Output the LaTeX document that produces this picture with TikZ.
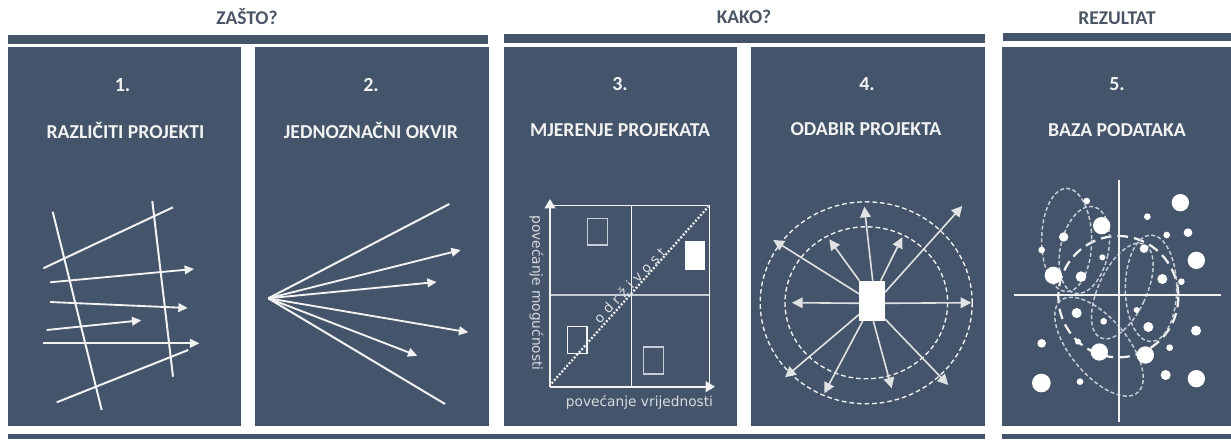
\documentclass[tikz,border=0pt]{standalone}
\usepackage{fontspec}
\setmainfont{Carlito}
\newfontfamily\axisfont{DejaVu Sans}
\usetikzlibrary{arrows.meta}
\definecolor{panelc}{HTML}{44546A}
\definecolor{headc}{HTML}{4A5666}
\definecolor{inkc}{HTML}{F2F2F2}
\definecolor{softc}{HTML}{C6CDD7}
\tikzset{
  panel/.style={fill=panelc,draw=none},
  head/.style={text=headc,font=\fontsize{14.6}{16}\selectfont\bfseries},
  numb/.style={text=inkc,font=\fontsize{15}{17}\selectfont\bfseries},
  ttl/.style={text=inkc,font=\fontsize{14.8}{17}\selectfont\bfseries},
  wl/.style={draw=inkc,line width=1.5pt},
  wa/.style={draw=inkc,line width=1.4pt,-{Triangle[length=7pt,width=6.5pt]}},
  thina/.style={draw=inkc!90!panelc,line width=1.2pt,-{Triangle[length=8pt,width=8pt]}},
  box/.style={draw=softc,line width=1pt},
  ring/.style={draw=inkc,line width=1pt,dash pattern=on 3.5pt off 2.2pt},
  dashe/.style={draw=softc,line width=1.1pt,dash pattern=on 3pt off 1.8pt},
  heavy/.style={draw=inkc,line width=1.7pt,dash pattern=on 8pt off 4.5pt},
  dotc/.style={fill=white,draw=none},
  axt/.style={text=inkc!85!panelc,font=\axisfont\fontsize{10.3}{12}\selectfont}
}
\begin{document}
\begin{tikzpicture}[x=0.75pt,y=-0.75pt]
\useasboundingbox (0,0) rectangle (1231,439);
% bars and panels
\fill[panel] (8,35) rectangle (488,44);
\fill[panel] (504,34) rectangle (985,42.5);
\fill[panel] (1003,33) rectangle (1231,41);
\fill[panel] (8,434) rectangle (985,439);
\fill[panel] (1002,434) rectangle (1231,439);
\fill[panel] (8,47) rectangle (240.5,425.7);
\fill[panel] (255,47) rectangle (489,425.7);
\fill[panel] (504,47) rectangle (736.5,425.7);
\fill[panel] (751,46.5) rectangle (985,425.7);
\fill[panel] (1002,47) rectangle (1231,425.7);
% headings
\node[head] (h1) at (247,17) {ZAŠTO?};
\node[head] (h2) at (744,17) {KAKO?};
\node[head] (h3) at (1117,18) {REZULTAT};
\node[numb] (n1) at (122.5,85) {1.};
\node[numb] (n2) at (371,85) {2.};
\node[numb] (n3) at (620,84.5) {3.};
\node[numb] (n4) at (867,84) {4.};
\node[numb] (n5) at (1117,84.5) {5.};
\node[ttl] (t1) at (125.5,130.5) {RAZLIČITI PROJEKTI};
\node[ttl] (t2) at (371,130.5) {JEDNOZNAČNI OKVIR};
\node[ttl] (t3) at (620,130) {MJERENJE PROJEKATA};
\node[ttl] (t4) at (866,129.5) {ODABIR PROJEKTA};
\node[ttl] (t5) at (1117,130.5) {BAZA PODATAKA};
% panel 1
\draw[wl] (52.7,211.7) -- (101.7,410);
\draw[wl] (152.3,201) -- (173,376.7);
\draw[wl] (43.3,268.3) -- (173,207.3);
\draw[wa] (50,282.3) -- (194,269);
\draw[wa] (50,302) -- (187.7,308);
\draw[wa] (46.7,330) -- (141.3,320.3);
\draw[wa] (43.3,343.3) -- (199.3,343.3);
\draw[wl] (56.7,402.3) -- (188.3,350);
% panel 2
\coordinate (o) at (268.3,298.3);
\draw[wl] (o) -- (449.3,204);
\draw[wa] (o) -- (460.7,250);
\draw[wa] (o) -- (436.7,282);
\draw[wa] (o) -- (468.3,332.3);
\draw[wa] (o) -- (417.3,355.7);
\draw[wl] (o) -- (445,404);
% panel 3
\draw[draw=softc,line width=1.2pt] (550,295) -- (709.3,295);
\draw[draw=inkc,line width=1pt] (631.7,205.3) -- (631.7,386.7);
\draw[draw=inkc,line width=1.2pt] (550,205.3) -- (709.3,205.3) -- (709.3,386.7);
\draw[draw=inkc,line width=1.4pt,-{Triangle[length=7pt,width=8pt]}] (550,386.7) -- (550,199);
\draw[draw=inkc,line width=1.4pt,-{Triangle[length=7pt,width=8pt]}] (550,386.7) -- (715,386.7);
\draw[box] (587.7,218.3) rectangle (607.3,245);
\draw[draw=inkc,line width=1pt] (567.3,326.7) rectangle (587,353.7);
\draw[box] (643.3,347) rectangle (663.7,374);
\fill[white] (684.7,241.3) rectangle (704.7,269.7);
\draw[draw=inkc,line width=1.7pt,dash pattern=on 1.4pt off 1.4pt] (551.7,383.3) -- (708.3,206.7);
\node[axt,rotate=46.5] (od) at (629.5,285) {o d r ž i v o s t};
\node[axt,rotate=-90] (ya) at (536.5,293) {povećanje mogućnosti};
\node[axt] (xa) at (639.5,402.5) {povećanje vrijednosti};
% panel 4
\draw[ring] (866.2,302.8) ellipse [x radius=106,y radius=101];
\draw[ring] (866.3,302.8) ellipse [x radius=81.3,y radius=76];
\node[fill=white,minimum width=19.2pt,minimum height=30.3pt,inner sep=0pt] (c) at (872.2,300.8) {};
\draw[thina] (872.7,280.7) -- (864.3,206.7);
\draw[thina] (859.3,294) -- (773.3,240);
\draw[thina] (859.3,280.7) -- (829.3,239.3);
\draw[thina] (880.7,280.7) -- (902.3,237.3);
\draw[thina] (885,292.3) -- (962.3,206);
\draw[thina] (885,303.3) -- (971.3,302.7);
\draw[thina] (859.3,303.3) -- (792,302.7);
\draw[thina] (859.3,314.3) -- (785,377.3);
\draw[thina] (862.7,321) -- (824.3,393.3);
\draw[thina] (873.3,321) -- (891.7,388.3);
\draw[thina] (885,319) -- (948.3,385);
% panel 5 ellipses
\begin{scope}[shift={(1000,180)},x=0.25pt,y=-0.25pt]
\draw[heavy] (355,350) ellipse [x radius=180,y radius=182];
\draw[dashe] (200,180) ellipse [x radius=75,y radius=155];
\draw[dashe,rotate around={-12:(253,210)}] (253,210) ellipse [x radius=72,y radius=133];
\draw[dashe,rotate around={-25:(367,333)}] (367,333) ellipse [x radius=72,y radius=155];
\draw[dashe] (453,325) ellipse [x radius=77,y radius=160];
\draw[dashe,rotate around={40:(297,500)}] (297,500) ellipse [x radius=85,y radius=180];
\draw[draw=inkc,line width=1.6pt] (356,0) -- (356,725);
\draw[draw=inkc,line width=1.6pt] (42,346) -- (663,346);
\foreach \x/\y/\r in {541/68/26,442/110/10,564/158/13,500/165/10,589/241/26,305/137/26,191/171/14,260/63/10,125/210/10,307/232/9,432/206/13,243/290/16,160/286/26,487/297/15,544/305/10,230/399/15,311/424/10,410/390/9,445/441/15,588/452/15,125/490/13,234/485/9,298/516/26,436/525/26,509/503/10,497/585/15,589/596/26,124/609/28,240/605/10}
  \fill[dotc] (\x,\y) circle [radius=\r];
\end{scope}
\end{tikzpicture}
\end{document}
